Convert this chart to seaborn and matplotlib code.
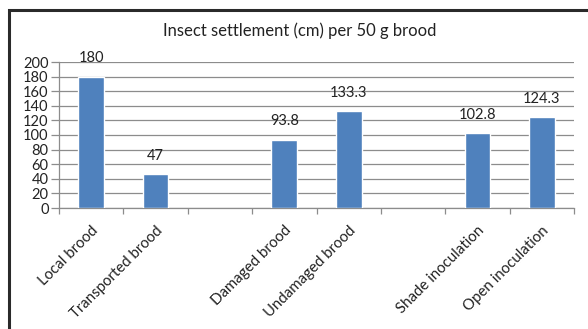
import matplotlib
matplotlib.use("Agg")
import matplotlib.pyplot as plt
import matplotlib.patches as mpatches
import seaborn as sns
import pandas as pd
import numpy as np

# Treatment groups; blank slots separate the three comparisons
categories = ["Local brood", "Transported brood", " ",
              "Damaged brood", "Undamaged brood", "  ",
              "Shade inoculation", "Open inoculation"]
values = [180, 47, np.nan, 93.8, 133.3, np.nan, 102.8, 124.3]
y_ticks = [0, 20, 40, 60, 80, 100, 120, 140, 160, 180, 200]
title = "Insect settlement (cm) per 50 g brood"

sns.set_theme(style="white")
plt.rcParams["font.family"] = ["Lato", "DejaVu Sans"]

W, H = 588, 329
fig = plt.figure(figsize=(W / 100, H / 100), dpi=100)
ax = fig.add_axes([59 / W, 1 - 208 / H, (574 - 59) / W, (208 - 62) / H])

df = pd.DataFrame({"group": categories, "value": values})
sns.barplot(data=df, x="group", y="value", order=categories,
            color="#4F81BD", saturation=1, width=0.4, ax=ax, zorder=3)

ax.set_ylim(0, 200)
ax.set_xlim(-0.5, len(categories) - 0.5)
ax.set_yticks(y_ticks)
ax.set_yticklabels([str(t) for t in y_ticks], fontsize=10.5, color="#222222")
ax.yaxis.grid(True, color="#8C8C8C", linewidth=0.9, zorder=0)
ax.set_axisbelow(True)

# tick marks on category boundaries, labels at the centres
ax.set_xticks(np.arange(-0.5, len(categories)), minor=False)
ax.set_xticklabels([])
ax.set_xticks(np.arange(len(categories)), minor=True)
ax.set_xticklabels([c.strip() for c in categories], minor=True,
                   rotation=45, ha="right", va="top", rotation_mode="anchor",
                   fontsize=10.8, color="#222222")
ax.tick_params(axis="x", which="major", length=4, width=0.9,
               color="#8C8C8C", direction="out", bottom=True)
ax.tick_params(axis="x", which="minor", length=0, pad=11)
ax.tick_params(axis="y", length=6, width=0.9, color="#8C8C8C",
               direction="out", left=True, pad=1.5)

for side in ["top", "right"]:
    ax.spines[side].set_visible(False)
for side in ["left", "bottom"]:
    ax.spines[side].set_color("#8C8C8C")
    ax.spines[side].set_linewidth(0.9)

ax.set_xlabel("")
ax.set_ylabel("")

for cont in ax.containers:
    labels = ["" if np.isnan(v) else f"{v:g}" for v in cont.datavalues]
    ax.bar_label(cont, labels=labels, padding=8, fontsize=10.5, color="#222222")

fig.text(300 / W, 1 - 31 / H, title, ha="center", va="center",
         fontsize=12, color="#222222")

# chart frame
frame = mpatches.Rectangle((9 / W, -0.1), 1.2, 1 - 10 / H + 0.1,
                           transform=fig.transFigure, fill=False,
                           edgecolor="#2A2A2A", linewidth=2.2)
fig.patches.append(frame)

fig.savefig("out.png", dpi=100)
